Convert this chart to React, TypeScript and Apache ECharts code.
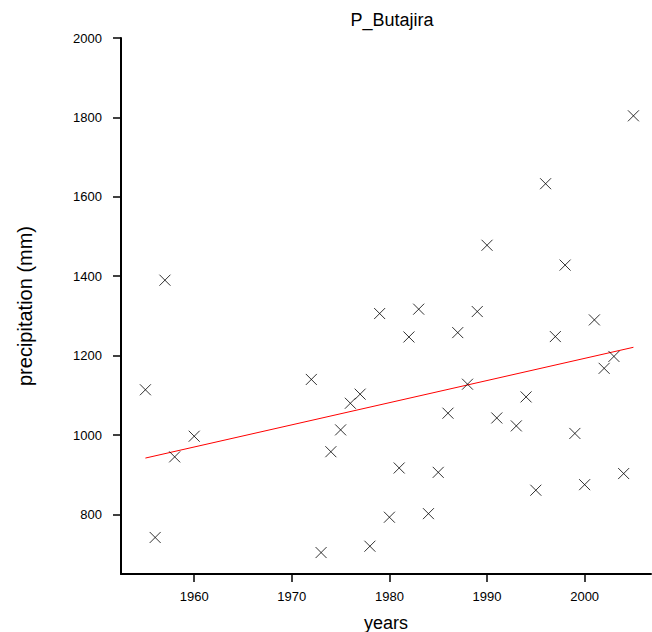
import React, { useEffect, useRef } from "react";
import * as echarts from "echarts";

const years = [1955, 1956, 1957, 1958, 1960, 1972, 1973, 1974, 1975, 1976, 1977, 1978, 1979, 1980, 1981, 1982, 1983, 1984, 1985, 1986, 1987, 1988, 1989, 1990, 1991, 1993, 1994, 1995, 1996, 1997, 1998, 1999, 2000, 2001, 2002, 2003, 2004, 2005];
const precipitation = [1114, 742, 1390, 945, 997, 1140, 704, 958, 1013, 1080, 1103, 720, 1306, 793, 917, 1247, 1317, 802, 906, 1055, 1258, 1128, 1311, 1478, 1043, 1023, 1096, 861, 1633, 1248, 1428, 1004, 875, 1290, 1168, 1198, 903, 1804];
const trendYears = [1955, 2005];
const trendValues = [942, 1221];
const xTicks = [1960, 1970, 1980, 1990, 2000];
const yTicks = [800, 1000, 1200, 1400, 1600, 1800, 2000];

export default function App() {
  const ref = useRef<HTMLDivElement>(null);
  useEffect(() => {
    if (!ref.current) return;
    const chart = echarts.init(ref.current, null, { renderer: "svg" });
    const font = "Liberation Sans, Arial, sans-serif";
    chart.setOption({
      animation: false,
      backgroundColor: "#fff",
      title: {
        text: "P_Butajira",
        left: 387,
        top: 6,
        textAlign: "center",
        textStyle: { fontFamily: font, fontSize: 18, fontWeight: "normal", color: "#000" },
      },
      grid: { left: 121, top: 38, right: 1, bottom: 58, containLabel: false, outerBoundsMode: "none" },
      xAxis: {
        type: "value",
        min: 1952.5,
        max: 2006.8,
        name: "years",
        nameLocation: "middle",
        nameGap: 40,
        nameTextStyle: { fontFamily: font, fontSize: 18, color: "#000" },
        splitLine: { show: false },
        axisLine: { show: true, lineStyle: { color: "#000", width: 2 } },
        axisTick: { show: true, customValues: xTicks, length: 8, lineStyle: { color: "#000", width: 1.5 } },
        axisLabel: {
          customValues: xTicks,
          margin: 16,
          fontFamily: font,
          fontSize: 13,
          color: "#000",
          formatter: (v: number) => String(v),
        },
      },
      yAxis: {
        type: "value",
        min: 650,
        max: 2000,
        name: "precipitation (mm)",
        nameLocation: "middle",
        nameGap: 86,
        nameTextStyle: { fontFamily: font, fontSize: 20, color: "#000" },
        splitLine: { show: false },
        axisLine: { show: true, lineStyle: { color: "#000", width: 2 } },
        axisTick: { show: true, customValues: yTicks, length: 8, lineStyle: { color: "#000", width: 1.5 } },
        axisLabel: {
          customValues: yTicks,
          margin: 19,
          fontFamily: font,
          fontSize: 13,
          color: "#000",
          formatter: (v: number) => String(v),
        },
      },
      series: [
        {
          type: "line",
          data: trendYears.map((y, i) => [y, trendValues[i]]),
          showSymbol: false,
          symbol: "none",
          lineStyle: { color: "#ff0000", width: 1 },
          z: 1,
        },
        {
          type: "scatter",
          data: years.map((y, i) => [y, precipitation[i]]),
          symbol: "path://M0,0L10,10M10,0L0,10",
          symbolSize: 11,
          itemStyle: { color: "none", borderColor: "#000", borderWidth: 1 },
          z: 2,
        },
      ],
    });
    return () => chart.dispose();
  }, []);
  return <div ref={ref} style={{ width: 652, height: 632, position: "absolute", left: 0, top: 0 }} />;
}
